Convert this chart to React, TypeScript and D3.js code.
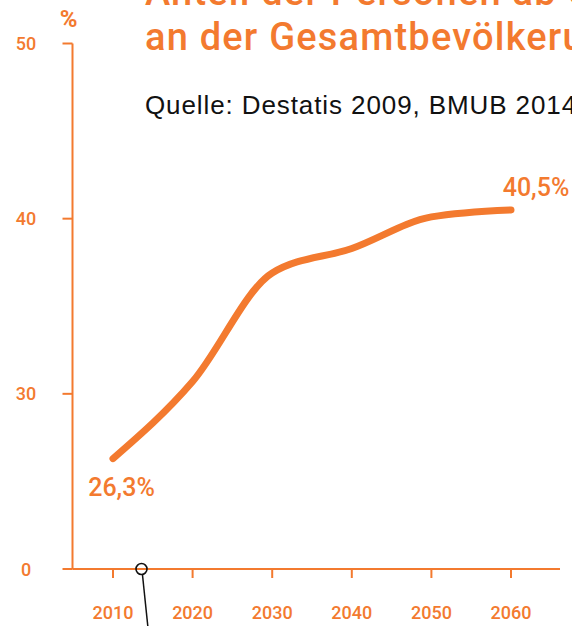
import React from "react";
import * as d3 from "d3";

const years = [2010, 2020, 2030, 2040, 2050, 2060];
const shares = [26.3, 30.7, 36.9, 38.3, 40.1, 40.5];
const yTickValues = [20, 30, 40, 50];
const yTickLabels = ["0", "30", "40", "50"];
const titleLines = ["Anteil der Personen ab 65 Jahren", "an der Gesamtbevölkerung"];
const sourceText = "Quelle: Destatis 2009, BMUB 2014";
const firstLabel = "26,3%";
const lastLabel = "40,5%";

const ORANGE = "#F37A2F";
const W = 572;
const H = 626;

export default function App() {
  const x = d3.scaleLinear().domain([2010, 2060]).range([113, 511]);
  const y = d3.scaleLinear().domain([20, 50]).range([569, 43.5]);
  const line = d3
    .line<number>()
    .x((_, i) => x(years[i]))
    .y((d) => y(d))
    .curve(d3.curveMonotoneX);
  const path = line(shares) || "";
  const num = { fontFamily: "Roboto, sans-serif", fontWeight: 500 } as const;

  return (
    <svg
      width={W}
      height={H}
      style={{ position: "absolute", left: 0, top: 0, background: "#fff" }}
    >
      {/* title */}
      {titleLines.map((t, i) => (
        <text
          key={t}
          x={145}
          y={5 + i * 44.5}
          fill={ORANGE}
          fontSize={38}
          letterSpacing={1.2}
          {...num}
        >
          {t}
        </text>
      ))}
      <text
        x={145}
        y={114}
        fill="#111"
        fontSize={26}
        letterSpacing={0.9}
        fontFamily="'Liberation Sans', Arial, sans-serif"
      >
        {sourceText}
      </text>

      {/* y axis */}
      <text x={68.5} y={27} textAnchor="middle" fill={ORANGE} fontSize={24} {...num} fontWeight={700}>
        %
      </text>
      <line x1={72.5} x2={72.5} y1={y(50)} y2={y(20)} stroke={ORANGE} strokeWidth={2} />
      {yTickValues.map((v, i) => (
        <g key={v}>
          <line x1={62.5} x2={72.5} y1={y(v)} y2={y(v)} stroke={ORANGE} strokeWidth={2} />
          <text x={26} y={y(v) + 6.5} textAnchor="middle" fill={ORANGE} fontSize={18} {...num}>
            {yTickLabels[i]}
          </text>
        </g>
      ))}

      {/* x axis */}
      <line x1={72.5} x2={560} y1={y(20)} y2={y(20)} stroke={ORANGE} strokeWidth={2} />
      {years.map((yr) => (
        <g key={yr}>
          <line x1={x(yr)} x2={x(yr)} y1={y(20)} y2={y(20) + 9} stroke={ORANGE} strokeWidth={2} />
          <text x={x(yr)} y={619} textAnchor="middle" fill={ORANGE} fontSize={18} {...num}>
            {yr}
          </text>
        </g>
      ))}

      {/* data line */}
      <path d={path} fill="none" stroke={ORANGE} strokeWidth={7} strokeLinecap="round" strokeLinejoin="round" />

      <text x={x(years[0]) + 8.5} y={496} textAnchor="middle" fill={ORANGE} fontSize={25} {...num}>
        {firstLabel}
      </text>
      <text x={536} y={196} textAnchor="middle" fill={ORANGE} fontSize={25} {...num}>
        {lastLabel}
      </text>

      {/* annotation */}
      <line x1={142.5} y1={575} x2={148} y2={H + 2} stroke="#111" strokeWidth={1.5} />
      <circle cx={141.5} cy={y(20)} r={5.5} fill="none" stroke="#111" strokeWidth={1.6} />
    </svg>
  );
}
